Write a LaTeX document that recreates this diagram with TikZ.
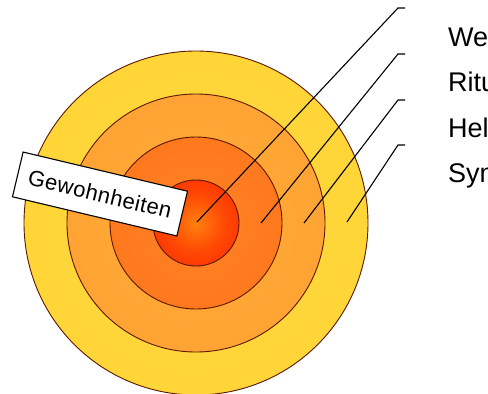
\documentclass[tikz,border=0pt]{standalone}
\usepackage{fontspec}
\setmainfont{Liberation Sans}
\definecolor{rimc}{HTML}{5A1800}
\definecolor{yA}{HTML}{FFDA40}
\definecolor{yB}{HTML}{FFD232}
\definecolor{yC}{HTML}{FFC400}
\definecolor{oA}{HTML}{FFAA38}
\definecolor{oB}{HTML}{FFA232}
\definecolor{oC}{HTML}{FF9624}
\definecolor{rA}{HTML}{FF8426}
\definecolor{rB}{HTML}{FF781E}
\definecolor{rC}{HTML}{FF6810}
\definecolor{cA}{HTML}{FF8010}
\definecolor{cB}{HTML}{FF4A04}
\definecolor{cC}{HTML}{FF2200}
\pgfdeclareradialshading{shY}{\pgfpoint{0bp}{0bp}}{color(0bp)=(yA); color(38bp)=(yB); color(50bp)=(yC)}
\pgfdeclareradialshading{shO}{\pgfpoint{0bp}{0bp}}{color(0bp)=(oA); color(34bp)=(oB); color(50bp)=(oC)}
\pgfdeclareradialshading{shR}{\pgfpoint{0bp}{0bp}}{color(0bp)=(rA); color(25bp)=(rB); color(50bp)=(rC)}
\pgfdeclareradialshading{shC}{\pgfpoint{0bp}{0bp}}{color(0bp)=(cA); color(16bp)=(cB); color(38bp)=(cC); color(50bp)=(cC)}
\tikzset{
  disk/.style={draw=rimc, line width=0.9pt},
  leader/.style={draw=black, line width=1.1pt},
  lbl/.style={anchor=base west, inner sep=0pt, font=\fontsize{27}{27}\selectfont},
  tag/.style={draw=black, fill=white, line width=1.1pt, minimum width=169pt, minimum height=46pt,
              inner sep=0pt, rotate=-13.4, font=\fontsize{22}{22}\selectfont\addfontfeature{LetterSpace=2}}
}
\begin{document}
\begin{tikzpicture}[x=1pt, y=-1pt]
\useasboundingbox (0,0) rectangle (488,394);
\clip (0,0) rectangle (488,394);
\coordinate (c) at (196,223);
\shade[shading=shY, disk] (c) circle[radius=172];
\shade[shading=shO, disk] (c) circle[radius=129];
\shade[shading=shR, disk] (c) circle[radius=86];
\shade[shading=shC, disk] (c) circle[radius=43];
\coordinate (p1) at (197,222);
\coordinate (p2) at (261,223);
\coordinate (p3) at (304,223);
\coordinate (p4) at (347,222);
\coordinate (k1) at (398,8);
\coordinate (k2) at (398,54);
\coordinate (k3) at (398,100);
\coordinate (k4) at (398,145);
\coordinate (e1) at (405,8);
\coordinate (e2) at (405,54);
\coordinate (e3) at (405,100);
\coordinate (e4) at (405,145);
\draw[leader] (p1) -- (k1) -- (e1);
\draw[leader] (p2) -- (k2) -- (e2);
\draw[leader] (p3) -- (k3) -- (e3);
\draw[leader] (p4) -- (k4) -- (e4);
\node[lbl] (l1) at (448,46) {Werte};
\node[lbl] (l2) at (448,91.5) {Rituale};
\node[lbl] (l3) at (448,137) {Helden};
\node[lbl] (l4) at (448,182) {Symbole};
\node[tag] (g) at (100,194) {Gewohnheiten};
\end{tikzpicture}
\end{document}
